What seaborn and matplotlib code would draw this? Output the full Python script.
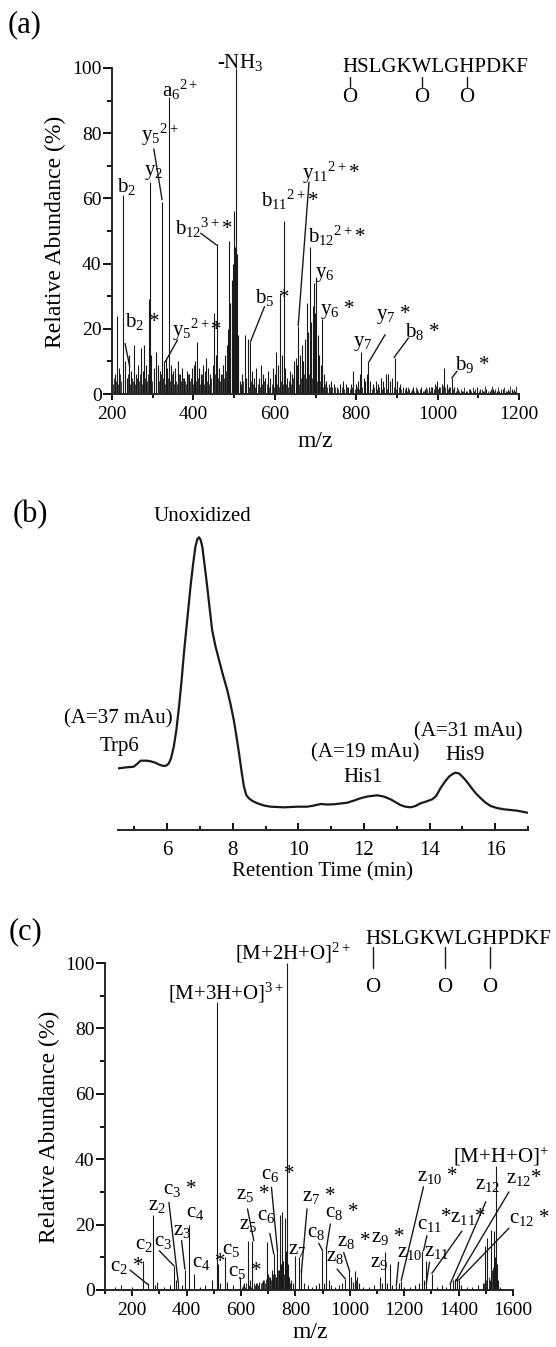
import matplotlib
matplotlib.use("Agg")
import matplotlib.pyplot as plt
import seaborn as sns
from matplotlib.lines import Line2D
from matplotlib.ticker import MultipleLocator

# ---- (a) CID spectrum: main peaks (m/z, relative abundance %)
a_mz = [207, 212, 216, 226, 231, 236, 242, 247, 253, 258, 264, 271, 276, 279, 284, 290, 293, 297,
        302, 307, 312, 318, 323, 328, 333, 336, 341, 345, 350, 356, 362, 367, 373, 378, 384, 390,
        396, 401, 405, 409, 413, 418, 424, 429, 432, 437, 442, 447, 451, 455, 459, 463, 468, 473,
        478, 482, 485, 488, 491, 494, 497, 500, 502, 504, 506, 509, 514, 520, 526, 530, 533, 539,
        544, 549, 555, 561, 566, 571, 577, 583, 589, 595, 600, 604, 609, 614, 618, 622, 626, 631,
        637, 642, 646, 651, 654, 657, 662, 666, 670, 674, 678, 682, 686, 689, 693, 696, 699, 701,
        705, 709, 713, 717, 721, 726, 732, 738, 745, 752, 760, 768, 775, 781, 787, 793, 799, 805,
        809, 813, 818, 822, 826, 830, 835, 841, 848, 853, 860, 866, 872, 879, 884, 889, 896, 901,
        907, 914, 922, 930, 940, 950, 960, 968, 978, 986, 993, 998, 1003, 1010, 1016, 1022, 1028,
        1035, 1041, 1050, 1060, 1070, 1080, 1090, 1098, 1105, 1112, 1120, 1128, 1136, 1145, 1152,
        1160, 1168, 1176, 1182, 1190]
a_int = [6, 24, 8, 61, 10, 5, 12, 7, 15, 6, 9, 14, 7, 15, 9, 29, 65, 12,
         8, 13, 9, 7, 59, 10, 11, 8, 91, 9, 7, 8, 10, 6, 8, 5, 7, 6,
         8, 9, 10, 16, 8, 6, 9, 7, 11, 8, 6, 9, 25, 12, 46, 8, 6, 9,
         12, 15, 20, 47, 28, 35, 40, 56, 45, 100, 43, 18, 4, 6, 18, 5, 17, 16,
         7, 5, 8, 5, 9, 6, 5, 7, 5, 8, 6, 13, 9, 31, 12, 53, 8, 5,
         7, 6, 10, 11, 9, 21, 12, 15, 10, 17, 28, 19, 45, 22, 27, 34, 25, 36,
         18, 12, 9, 23, 6, 4, 3, 4, 3, 2, 3, 4, 3, 2, 3, 7, 3, 4,
         6, 13, 5, 4, 6, 10, 4, 3, 4, 3, 5, 4, 6, 6, 4, 5, 11, 4,
         3, 2, 2, 1.5, 2, 1.5, 2, 1.5, 2, 2, 3, 4, 2, 3, 8, 3, 2,
         5, 2, 1.5, 1, 1, 1.5, 1, 2, 1.5, 1, 1.5, 1, 1.5, 1, 1,
         1.5, 1, 1, 1.5, 1]

# (a) low-level baseline peaks
a_mz_low = [202, 204.5, 209, 214, 218.5, 221, 228, 233, 238, 240, 244, 249, 251, 256, 261, 266,
            268.5, 273, 281, 286, 288, 295, 299, 304, 309, 314, 316, 320, 325, 330, 338, 343,
            347, 352, 354, 358, 360, 364, 369, 371, 375, 380, 382, 387, 392, 394, 398, 403, 407,
            411, 415, 420, 422, 426, 431, 434, 439, 444, 449, 453, 457, 461, 465, 470, 475, 480,
            516, 518, 523, 528, 536, 541, 546, 551, 553, 558, 563, 568, 573, 575, 580, 585, 587,
            592, 597, 602, 606, 611, 616, 620, 624, 628, 633, 635, 639, 644, 648, 653, 659, 664,
            668, 672, 676, 680, 684, 691, 694, 698, 703, 707, 711, 715, 719, 723, 729, 735, 741,
            748, 756, 764, 771, 778, 784, 790, 796, 802, 807, 815, 820, 828, 833, 838, 844, 851,
            857, 863, 869, 875, 882, 887, 892, 899, 904, 910]
a_int_low = [3, 5, 4, 3, 6, 4, 5, 3, 4, 6, 3, 5, 4, 3, 5, 4,
             6, 3, 5, 4, 6, 5, 4, 6, 3, 5, 4, 6, 5, 3, 5, 4,
             6, 3, 5, 4, 3, 6, 4, 3, 5, 4, 3, 6, 4, 5, 3, 6, 4,
             5, 3, 4, 6, 3, 5, 4, 3, 5, 4, 6, 3, 5, 4, 6, 5, 7,
             3, 2, 4, 3, 2, 4, 3, 2, 4, 3, 2, 3, 4, 2, 3, 2, 4,
             3, 2, 4, 3, 2, 4, 3, 5, 3, 2, 4, 3, 5, 4, 6, 3, 5,
             4, 6, 5, 4, 6, 5, 4, 6, 4, 3, 4, 3, 2, 3, 2, 2, 2,
             2, 1.5, 2, 1.5, 2, 1.5, 2, 1.5, 2, 1.5, 2, 2, 1.5, 2, 1.5, 2, 1.5,
             2, 1.5, 2, 1.5, 2, 1.5, 2, 1.5, 2, 1.5]

a_mz_tail = [916, 919, 925, 928, 934, 937, 943, 946, 953, 957, 963, 966, 972, 975, 981, 984, 990,
             996, 1001, 1006, 1013, 1019, 1025, 1031, 1038, 1044, 1047, 1053, 1057, 1063, 1066,
             1073, 1077, 1083, 1086, 1093, 1101, 1108, 1115, 1117, 1123, 1131, 1133, 1139, 1142,
             1148, 1155, 1157, 1163, 1171, 1173, 1179, 1185, 1187, 1193]
a_int_tail = [1, 1.5, 1, 2, 1, 1.5, 1, 2, 1, 1.5, 1, 1, 2, 1.5, 1, 2, 1.5,
              2.5, 1.5, 2, 2.5, 2, 1.5, 2, 1.5, 1, 2, 1, 1.5, 1, 2,
              1, 1.5, 1, 2, 1.5, 1, 1.5, 1, 2.5, 1, 1.5, 2.5, 1, 1.5,
              2, 1, 1.5, 2, 1, 1.5, 2.5, 1, 1.5, 2.5]

# ---- (b) chromatogram (retention time min, absorbance arb.)
b_time = [4.52, 4.77, 4.98, 5.08, 5.19, 5.39, 5.52, 5.64, 5.78, 5.90,
          5.98, 6.05, 6.12, 6.20, 6.28, 6.36, 6.44, 6.51, 6.61, 6.71,
          6.79, 6.86, 6.92, 6.97, 7.02, 7.07, 7.14, 7.22, 7.30, 7.37,
          7.47, 7.58, 7.70, 7.83, 7.93, 8.03, 8.11, 8.19, 8.27, 8.34,
          8.41, 8.49, 8.60, 8.75, 8.95, 9.15, 9.56, 9.97, 10.27, 10.48,
          10.68, 10.88, 11.08, 11.49, 11.70, 11.89, 12.10, 12.40, 12.60, 12.81,
          13.11, 13.26, 13.42, 13.57, 13.72, 13.90, 14.08, 14.20, 14.33, 14.46,
          14.59, 14.70, 14.79, 14.90, 15.00, 15.12, 15.25, 15.40, 15.56, 15.70,
          15.86, 16.05, 16.27, 16.67, 16.98]
b_abs = [61.7, 62.7, 63.3, 66, 69.3, 69.3, 68.5, 67.3, 65, 64.0,
         64.5, 66.7, 72, 83.3, 100, 123.3, 150, 176.7, 210, 243.3,
         266, 283.3, 291, 292.7, 290, 283.3, 265, 243.3, 220, 200.0,
         184, 170.0, 155, 140.0, 126, 110.0, 94, 76.7, 58, 43.3,
         35, 31.7, 29, 26.7, 24.5, 23.3, 22.7, 23.3, 23.3, 24.5,
         26.0, 25.5, 25.7, 27.3, 29.5, 31.7, 33.5, 34.7, 33.5, 30.7,
         25.0, 23.3, 22.7, 24, 26.7, 28.5, 30.7, 34, 41.7, 48,
         53.3, 56, 57.3, 56.5, 53.3, 49, 43.3, 37, 31.7, 27.5,
         24.0, 22, 20.7, 19.3, 17.3]

# ---- (c) ECD spectrum peaks
c_mz = [135, 160, 198, 241, 259, 277, 283, 292, 318, 340, 353, 362, 369, 382, 394, 409, 428, 450,
        468, 494, 512, 516, 522, 541, 550, 572, 596, 612, 626, 634, 642, 655, 668, 680, 694, 700,
        706, 713, 722, 729, 734, 738, 743, 747, 752, 756, 761, 765, 769, 773, 778, 785, 791, 798,
        812, 822, 830, 845, 860, 875, 888, 898, 906, 914, 922, 930, 945, 960, 972, 984, 996, 1004,
        1012, 1020, 1026, 1032, 1050, 1070, 1090, 1110, 1120, 1128, 1136, 1146, 1155, 1171, 1180,
        1189, 1200, 1220, 1240, 1255, 1265, 1272, 1281, 1302, 1320, 1340, 1355, 1369, 1380, 1388,
        1395, 1400, 1410, 1430, 1450, 1470, 1488, 1498, 1506, 1515, 1520, 1526, 1530, 1534, 1538,
        1541, 1545, 1552]
c_int = [1, 1.5, 1, 9, 2, 23, 1.5, 2.3, 1, 1.5, 7.4, 3, 2.5, 1.5, 6, 20, 5, 1,
         1.5, 3, 88, 8, 2, 10, 2.3, 1.5, 4, 2, 15, 3, 15, 2, 2.5, 3, 14.6, 5,
         4, 6, 11, 4, 13, 6, 23, 8, 24, 9, 22, 12, 100, 8, 4, 3, 2, 10.5,
         10, 6, 2, 1.5, 1, 1.5, 2, 12, 2, 13.6, 3, 1.5, 1, 1.5, 2, 3.4, 5.7, 3.9,
         2.5, 5.9, 3.9, 2, 1, 1, 1.5, 3.9, 2, 11.5, 2, 8, 1.5, 1.3, 2,
         2.9, 1, 1, 1.5, 2, 12, 3, 9, 5, 1, 1.5, 1, 2, 3, 3.5,
         4, 3, 1.5, 1, 1, 1.5, 2, 13.5, 16, 3, 18.5, 6, 18, 10, 38,
         8, 3, 1]

# (c) low-level peaks
c_mz_low = [603, 607, 616, 620, 630, 638, 646, 650, 660, 664, 672, 676, 684, 688, 691, 697, 703,
            709, 716, 719, 725, 731, 736, 741, 745, 749, 754, 758, 763, 767, 771, 776, 781, 1024,
            1028, 1494, 1502, 1510, 1518, 1524, 1528, 1532, 1536, 1540, 1543]
c_int_low = [1, 1.5, 1, 2, 1.5, 1, 2, 1.5, 2, 1.5, 2, 2.5, 3, 2, 3.5, 3, 4,
             3, 5, 3.5, 5, 4, 6, 5, 7, 6, 8, 5, 7, 6, 4, 3, 2, 3,
             2, 2, 3, 4, 5, 6, 7, 8, 9, 6, 4]

# ---- annotation texts
peptide = "HSLGKWLGHPDKF"
ox_sites = [0, 5, 8]

a_labels = [("b$_2$", 225, 64), ("y$_2$", 290, 67.8), ("y$_5$$^{2+}$", 284.6, 78.5),
            ("a$_6$$^{2+}$", 335.5, 92.8), ("b$_2$ *", 243.5, 22.8), ("y$_5$$^{2+}$*", 360, 18.7),
            ("b$_{12}$$^{3+}$*", 368, 51), ("b$_{11}$$^{2+}$*", 579, 59.5), ("b$_5$ *", 564, 30),
            ("y$_{11}$$^{2+}$*", 678, 66.8), ("b$_{12}$$^{2+}$*", 694, 48.4), ("y$_6$", 711, 36.6),
            ("y$_6$ *", 723, 25.4), ("y$_7$", 805, 15.6), ("y$_7$ *", 860, 23.8),
            ("b$_8$ *", 933, 19.7), ("b$_9$ *", 1056, 9.5)]
a_leaders = [(302.7, 75.2, 323, 59.6), (232, 15.5, 243.5, 8.4), (361, 16.6, 331, 9.9),
             (418, 49.3, 457, 45.7), (574.7, 26.8, 540, 16), (684, 65, 657.5, 21),
             (871, 18.2, 832, 10), (928.5, 17.2, 893, 11.2), (1047.6, 7, 1035, 4.9)]

c_labels = [("c$_2$ *", 137, 7.4), ("c$_2$", 228.5, 14), ("z$_2$", 277.5, 25.9), ("c$_3$", 299.5, 14.9),
            ("c$_3$ *", 332.6, 30.9), ("z$_3$", 369, 18.2), ("c$_4$", 414.6, 23.8),
            ("c$_4$ *", 436.6, 8.5), ("c$_5$", 546.8, 12.6), ("c$_5$ *", 571, 5.7),
            ("z$_5$ *", 601.8, 29.4), ("z$_5$", 610.4, 20.2), ("c$_6$ *", 693.6, 35.5),
            ("c$_6$", 679, 23), ("z$_7$", 790, 12.5), ("z$_7$ *", 842.8, 28.9), ("c$_8$", 861, 17.7),
            ("c$_8$ *", 928.5, 23.8), ("z$_8$", 931, 10.5), ("z$_8$ *", 971.4, 15.1),
            ("z$_9$ *", 1097.4, 16.3), ("z$_9$", 1093.8, 8.5), ("z$_{10}$", 1191.7, 11.5),
            ("z$_{10}$ *", 1265, 35), ("c$_{11}$", 1265, 20.2), ("z$_{11}$", 1289.6, 12),
            ("*z$_{11}$*", 1387.5, 22.2), ("z$_{12}$", 1480, 32.5), ("z$_{12}$*", 1591, 34.4),
            ("c$_{12}$ *", 1604, 21.9)]
c_leaders = [(191.8, 6.1, 259, 1.6), (299.5, 12, 353.4, 7.4), (335, 26.8, 369.3, 2.3),
             (381.5, 15.1, 393.8, 6.4), (623.9, 24.8, 647, 15.1), (712, 31.4, 734, 12),
             (706, 17.3, 720.6, 11), (842.8, 24.8, 822, 5.4), (885.7, 14.3, 900.4, 12),
             (928.5, 20.2, 913.8, 12.6), (953, 6.4, 983.6, 3.4), (977.5, 11.5, 999.5, 5.7),
             (1179.4, 8.5, 1170.9, 1.3), (1271, 31.6, 1189, 2.9), (1283.5, 16.6, 1271, 12),
             (1293, 8.5, 1281, 1.8), (1412, 18, 1301.8, 5.1), (1500, 27, 1369, 1.8),
             (1585, 30, 1388, 2.5), (1585, 18.9, 1400, 3)]

# ---- style
sns.set_theme(style="ticks")
plt.rcParams['font.family'] = ['Liberation Serif', 'DejaVu Serif']
plt.rcParams['mathtext.fontset'] = 'custom'
plt.rcParams['mathtext.rm'] = 'Liberation Serif'
plt.rcParams['mathtext.it'] = 'Liberation Serif:italic'
plt.rcParams['mathtext.default'] = 'regular'
plt.rcParams['text.color'] = 'black'
plt.rcParams['axes.labelcolor'] = 'black'
plt.rcParams['xtick.color'] = 'black'
plt.rcParams['ytick.color'] = 'black'

W, H = 556, 1347
fig = plt.figure(figsize=(W / 100, H / 100), dpi=100)
fig.patch.set_facecolor('white')


def rect(l, t, r, b):
    return [l / W, 1 - b / H, (r - l) / W, (b - t) / H]


def ftext(px, py, s, **kw):
    return fig.text(px / W, 1 - py / H, s, **kw)


ax_a = fig.add_axes(rect(112, 68, 519, 394))
ax_b = fig.add_axes(rect(118, 520, 528, 830))
ax_c = fig.add_axes(rect(105, 950, 513, 1290))

# first-letter centre -> left/baseline offset (pixels)
off = {'b': (-5, -7), 'y': (-5, -2.5), 'a': (-5, -5), 'c': (-5, -5), 'z': (-5, -5), '*': (-15, -5)}


def label(ax, s, x, y, size=15):
    dx, dy = off[s[0]]
    ax.annotate(s, xy=(x, y), xytext=(dx, dy), textcoords='offset pixels', ha='left',
                va='baseline', fontsize=size, annotation_clip=False)


def spectrum_axes(ax, xmin, xmax, ymax):
    ax.set_xlim(xmin, xmax)
    ax.set_ylim(0, ymax)
    sns.despine(ax=ax)
    ax.spines['left'].set_bounds(0, 100)
    for s in ['left', 'bottom']:
        ax.spines[s].set_linewidth(1.4)
    ax.xaxis.set_major_locator(MultipleLocator(200))
    ax.xaxis.set_minor_locator(MultipleLocator(100))
    ax.yaxis.set_major_locator(MultipleLocator(20))
    ax.yaxis.set_minor_locator(MultipleLocator(10))
    ax.tick_params(axis='x', which='major', length=4.5, width=1.3, pad=4, labelsize=14)
    ax.tick_params(axis='x', which='minor', length=3, width=1.3)
    ax.tick_params(axis='y', which='major', length=6.5, width=1.3, pad=1, labelsize=14)
    ax.tick_params(axis='y', which='minor', length=3.6, width=1.3)
    ax.set_facecolor('white')
    ax.set_xlabel('m/z', fontsize=17)
    ax.set_ylabel('Relative Abundance (%)', fontsize=17)
    ax.yaxis.label.set_va('center')
    ax.xaxis.label.set_va('center')


def draw_peptide(x0, y_let, y_s0, y_s1, y_o, size=15):
    ftext(x0, y_let, peptide, fontsize=size, ha='left', va='center')
    r = fig.canvas.get_renderer()
    for i in ox_sites:
        w0 = 0
        if i > 0:
            t0 = fig.text(0, 0, peptide[:i], fontsize=size)
            w0 = t0.get_window_extent(r).width
            t0.remove()
        t1 = fig.text(0, 0, peptide[:i + 1], fontsize=size)
        w1 = t1.get_window_extent(r).width
        t1.remove()
        xc = x0 + (w0 + w1) / 2
        fig.add_artist(Line2D([xc / W, xc / W], [1 - y_s0 / H, 1 - y_s1 / H], color='k', lw=1.0,
                              transform=fig.transFigure))
        ftext(xc, y_o, 'O', fontsize=size, ha='center', va='center')


# ---- (a)
spectrum_axes(ax_a, 200, 1200, 100)
ax_a.vlines(a_mz_low, 0, a_int_low, color='k', lw=0.6)
ax_a.vlines(a_mz_tail, 0, a_int_tail, color='k', lw=0.6)
ax_a.vlines(a_mz, 0, a_int, color='k', lw=0.8)
for s, x, y in a_labels:
    label(ax_a, s, x, y)
for x1, y1, x2, y2 in a_leaders:
    ax_a.plot([x1, x2], [y1, y2], color='k', lw=1.0, clip_on=False)
ax_a.text(514.5, 101.6, '-NH$_3$', fontsize=15, ha='center', va='center', clip_on=False)
ax_a.xaxis.set_label_coords(0.5, -0.146)
ax_a.yaxis.set_label_coords(-0.14, 0.497)
draw_peptide(342, 68, 77, 87, 97)
ftext(25, 25, '(a)', fontsize=22, ha='center', va='center')

# ---- (b)
sns.lineplot(x=b_time, y=b_abs, ax=ax_b, color='k', lw=1.6, solid_joinstyle='round')
ax_b.set_xlim(4.5, 17.0)
ax_b.set_ylim(0, 310)
sns.despine(ax=ax_b, left=True)
ax_b.spines['bottom'].set_linewidth(1.4)
ax_b.set_yticks([])
ax_b.xaxis.set_major_locator(MultipleLocator(2))
ax_b.xaxis.set_minor_locator(MultipleLocator(1))
ax_b.tick_params(axis='x', which='major', direction='in', length=5, width=1.3, pad=8, labelsize=15)
ax_b.tick_params(axis='x', which='minor', direction='in', length=3, width=1.3)
ax_b.set_facecolor('white')
ax_b.set_xlabel('Retention Time (min)', fontsize=15)
ax_b.set_ylabel('')
ax_b.xaxis.label.set_va('center')
ax_b.xaxis.set_label_coords(0.5, -0.135)
ftext(30, 515, '(b)', fontsize=22, ha='center', va='center')
ftext(202, 516, 'Unoxidized', fontsize=15, ha='center', va='center')
ftext(118, 719, '(A=37 mAu)', fontsize=15, ha='center', va='center')
ftext(119, 746, 'Trp6', fontsize=15, ha='center', va='center')
ftext(365, 753, '(A=19 mAu)', fontsize=15, ha='center', va='center')
ftext(363, 777, 'His1', fontsize=15, ha='center', va='center')
ftext(468, 732, '(A=31 mAu)', fontsize=15, ha='center', va='center')
ftext(465, 755, 'His9', fontsize=15, ha='center', va='center')

# ---- (c)
spectrum_axes(ax_c, 100, 1600, 104)
ax_c.vlines(c_mz_low, 0, c_int_low, color='k', lw=0.6)
ax_c.vlines(c_mz, 0, c_int, color='k', lw=0.8)
for s, x, y in c_labels:
    label(ax_c, s, x, y)
for x1, y1, x2, y2 in c_leaders:
    ax_c.plot([x1, x2], [y1, y2], color='k', lw=1.0, clip_on=False)
ax_c.text(331.6, 90.8, '[M+3H+O]$^{3+}$', fontsize=15, ha='left', va='center', clip_on=False)
ax_c.text(578, 103, '[M+2H+O]$^{2+}$', fontsize=15, ha='left', va='center', clip_on=False)
ax_c.text(1555, 41, '[M+H+O]$^{+}$', fontsize=15, ha='center', va='center', clip_on=False)
ax_c.xaxis.set_label_coords(0.502, -0.126)
ax_c.yaxis.set_label_coords(-0.136, 0.48)
draw_peptide(365, 940, 947, 968, 987)
ftext(25, 932, '(c)', fontsize=22, ha='center', va='center')

fig.savefig('out.png', dpi=100)
